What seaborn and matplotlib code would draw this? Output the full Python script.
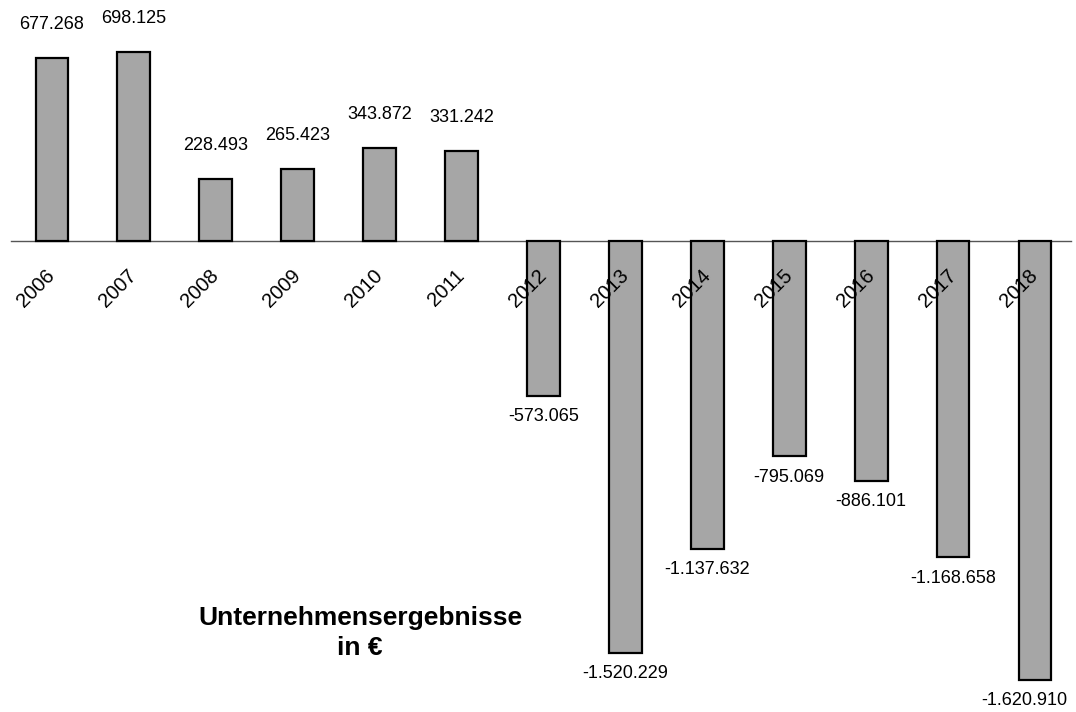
import matplotlib
matplotlib.use("Agg")
import matplotlib.pyplot as plt
from matplotlib import font_manager
import seaborn as sns
import pandas as pd
import numpy as np

# Annual company results (EUR)
years = ["2006", "2007", "2008", "2009", "2010", "2011", "2012",
         "2013", "2014", "2015", "2016", "2017", "2018"]
results = [677268, 698125, 228493, 265423, 343872, 331242, -573065,
           -1520229, -1137632, -795069, -886101, -1168658, -1620910]
value_labels = ["677.268", "698.125", "228.493", "265.423", "343.872", "331.242",
                "-573.065", "-1.520.229", "-1.137.632", "-795.069", "-886.101",
                "-1.168.658", "-1.620.910"]
title_text = "Unternehmensergebnisse\nin €"

sns.set_theme(style="white")
installed = {f.name for f in font_manager.fontManager.ttflist}
narrow = "Liberation Sans Narrow" if "Liberation Sans Narrow" in installed else "Liberation Sans"
plt.rcParams["font.family"] = [narrow, "DejaVu Sans"]
plt.rcParams["text.color"] = "black"

df = pd.DataFrame({"year": years, "result": results})

fig = plt.figure(figsize=(10.76, 7.12), dpi=100)
ax = fig.add_axes([0, 0, 1, 1])
ax.set_facecolor("none")

sns.barplot(data=df, x="year", y="result", color="#a6a6a6", saturation=1,
            width=0.40, edgecolor="black", linewidth=1.6, ax=ax, zorder=2)

ax.set_xlim(-0.634, 12.44)
ax.set_ylim(-1740000, 890300)

for s in ["left", "right", "top"]:
    ax.spines[s].set_visible(False)
ax.spines["bottom"].set_position(("data", 0))
ax.spines["bottom"].set_bounds(-0.5, 12.44)
ax.spines["bottom"].set_color("#555555")
ax.spines["bottom"].set_linewidth(1.0)
ax.spines["bottom"].set_zorder(1)

ax.set_yticks([])
ax.set_xlabel("")
ax.set_ylabel("")

# year labels, rotated and drawn over the bars
ax.set_xticks(range(len(years)))
ax.set_xticklabels(years, rotation=45, ha="right", va="center",
                   rotation_mode="anchor", fontsize=14.5)
ax.tick_params(axis="x", which="major", length=0, pad=23, colors="black")
# boundary tick marks between categories
ax.set_xticks(np.arange(-0.5, len(years), 1.0), minor=True)
ax.tick_params(axis="x", which="minor", length=5, width=1.0, color="#555555",
               direction="out")
ax.xaxis.set_zorder(5)

n = len(results)
for i, (v, lab) in enumerate(zip(results, value_labels)):
    dx = -8 if i == n - 1 else 0
    if v >= 0:
        ax.annotate(lab, (i, v), xytext=(dx, 24), textcoords="offset points",
                    ha="center", va="center", fontsize=13, color="black")
    else:
        ax.annotate(lab, (i, v), xytext=(dx, -15), textcoords="offset points",
                    ha="center", va="center", fontsize=13, color="black")

fig.text(360 / 1076, 1 - 633 / 712, title_text, ha="center", va="center",
         fontsize=19, fontweight="bold", family=["Liberation Sans", "DejaVu Sans"],
         linespacing=1.3, color="black")

fig.savefig("out.png", dpi=100)
